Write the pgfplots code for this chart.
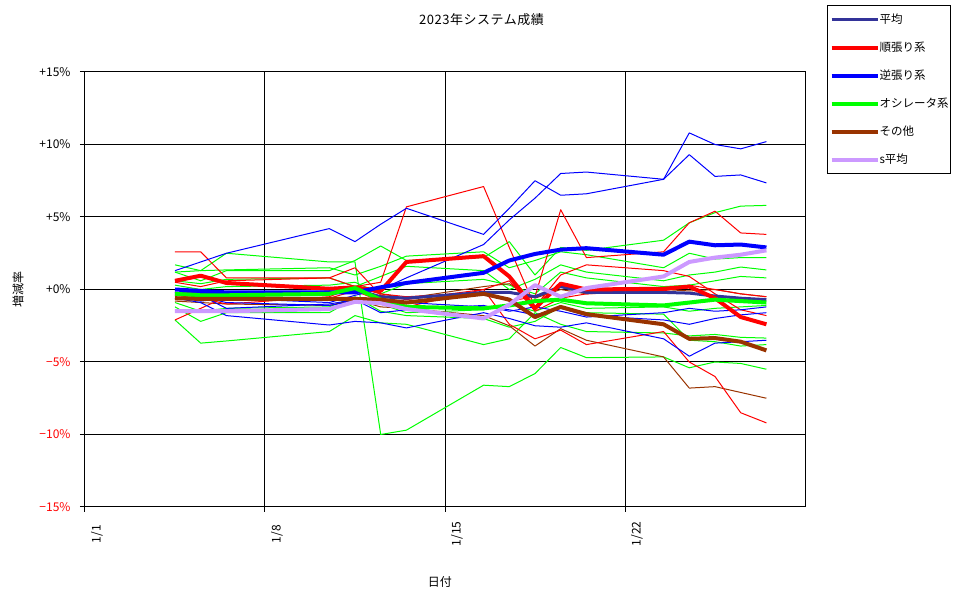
\documentclass[border=0pt]{standalone}
\usepackage{fontspec}
\setmainfont{Noto Sans CJK JP}
\usepackage{pgfplots}
\pgfplotsset{compat=1.18}
\usepackage{pgfplotstable}
\definecolor{cNavy}{HTML}{333399}
\definecolor{cRed}{HTML}{FF0000}
\definecolor{cBlue}{HTML}{0000FF}
\definecolor{cGreen}{HTML}{00FF00}
\definecolor{cBrown}{HTML}{993300}
\definecolor{cPurple}{HTML}{CC99FF}
\newcommand\fs{\fontsize{12}{14}\selectfont}
\newcommand\fsl{\fontsize{11.5}{13}\selectfont}
\newcommand\fst{\fontsize{13}{15}\selectfont\addfontfeatures{LetterSpace=4}}

% x = days since start of 1/1 (points at mid-day)
\pgfplotstableread{
x    avg   trd   ctr   osc   oth   sav
3.5  -0.3  0.6   0.0   -0.3  -0.6  -1.5
4.5  -0.2  0.95  -0.1  -0.4  -0.65 -1.5
5.5  -0.4  0.45  -0.2  -0.4  -0.65 -1.5
9.5  -0.3  0.05  -0.2  -0.3  -0.65 -1.35
10.5 0.0   0.15  -0.2  0.1   -0.65 -0.85
11.5 -0.5  -0.1  0.15  -0.7  -0.7  -0.95
12.5 -0.6  1.9   0.45  -1.2  -0.9  -1.35
15.5 -0.2  2.3   1.15  -1.3  -0.3  -2.0
16.5 -0.2  0.9   2.0   -1.1  -0.7  -1.05
17.5 -0.5  -1.3  2.45  -0.8  -1.9  0.3
18.5 0.2   0.4   2.75  -0.7  -1.2  -0.5
19.5 -0.2  0.0   2.85  -0.95 -1.7  0.1
22.5 -0.2  0.05  2.4   -1.1  -2.4  0.9
23.5 -0.25 0.2   3.3   -0.9  -3.4  1.9
24.5 -0.45 -0.6  3.05  -0.7  -3.35 2.2
25.5 -0.6  -1.9  3.1   -0.8  -3.6  2.4
26.5 -0.7  -2.4  2.9   -0.9  -4.2  2.7
}\thickdata

\pgfplotstableread{
x    B1   B2   B3    B4    B5   R1   R2   R3   R5   G1    G2    G4   G6   G7   G8   G9   G10  Br1   Br2
3.5  1.3  -0.5 -0.3  -0.6  -0.2 -0.4 -2.1 0.5  2.6  1.7   -2.1  1.2  1.2  0.6  0.3  -0.9 -1.2 -0.8  -0.2
4.5  1.9  -0.8 -0.5  -0.9  -0.4 -0.6 -1.3 0.2  2.6  1.3   -3.7  0.6  1.3  0.4  0.0  -1.5 -2.2 -0.9  -0.4
5.5  2.5  -0.6 -0.9  -1.8  -1.3 -1.0 -0.5 0.6  0.8  2.5   -3.55 1.3  1.35 0.7  0.2  -1.3 -1.6 -1.0  -0.3
9.5  4.2  -0.9 -1.1  -2.45 -1.0 -0.5 -0.6 0.8  0.8  1.9   -2.9  1.3  1.5  0.8  0.3  -1.2 -1.6 -1.1  -0.3
10.5 3.3  -0.4 -0.8  -2.2  -0.7 0.2  -0.1 0.2  1.5  1.9   -1.8  2.0  1.0  0.2  0.5  -0.5 -0.6 -0.7  0.2
11.5 4.5  0.0  -1.0  -2.3  -1.6 0.5  -0.8 -0.3 -0.4 -10.0 -2.3  3.0  1.6  0.9  -0.3 -1.5 -1.0 -1.2  -0.3
12.5 5.6  0.8  -0.9  -2.65 -1.4 5.7  -1.2 -0.5 -0.7 -9.7  -2.4  2.0  2.3  1.6  0.4  -1.8 -1.6 -1.3  -0.6
15.5 3.8  3.1  -1.2  -1.6  -1.1 7.1  0.0  -0.2 0.0  -6.6  -3.8  2.2  2.6  1.3  0.7  -2.0 -1.4 -1.8  0.2
16.5 5.6  4.8  -1.4  -2.0  -1.5 2.9  -2.4 -0.8 0.6  -6.7  -3.4  3.3  1.5  0.0  0.3  -2.6 -1.0 -2.5  0.4
17.5 7.5  6.3  -1.75 -2.5  -1.2 -1.2 -3.4 -0.5 -1.5 -5.8  -1.6  1.0  2.0  0.7  -0.3 -2.2 -1.5 -3.9  -0.6
18.5 6.5  8.0  -1.3  -2.6  -1.5 1.0  -2.8 5.5  -0.6 -4.0  -2.4  2.9  2.6  1.7  1.2  -1.2 -0.9 -2.7  0.0
19.5 6.6  8.1  -1.8  -2.3  -1.9 1.7  -3.8 2.2  -0.3 -4.7  -2.9  2.7  2.4  1.2  0.8  -1.6 -1.3 -3.5  -0.3
22.5 7.6  7.6  -2.1  -3.4  -1.6 1.3  -2.9 2.6  -0.1 -4.65 -3.0  3.4  1.5  0.6  0.2  -1.7 -1.2 -4.65 0.0
23.5 9.3  10.8 -2.4  -4.6  -1.3 0.9  -5.0 4.6  0.3  -5.4  -3.2  4.6  2.5  1.0  0.3  -3.5 -1.5 -6.8  -0.1
24.5 7.8  10.0 -2.0  -3.7  -1.5 -0.3 -6.0 5.4  0.0  -5.0  -3.1  5.3  2.1  1.2  0.6  -3.6 -1.3 -6.7  0.0
25.5 7.9  9.7  -1.75 -3.6  -1.4 -1.4 -8.5 3.9  -0.3 -5.1  -3.3  5.75 2.2  1.55 0.9  -3.9 -1.2 -7.1  -0.3
26.5 7.35 10.2 -1.6  -3.5  -1.2 -1.8 -9.2 3.8  -0.5 -5.5  -3.35 5.8  2.2  1.35 0.8  -3.8 -1.1 -7.5  -0.5
}\thindata

\begin{document}
\begin{tikzpicture}
\begin{axis}[
  scale only axis,
  width=720pt, height=435pt,
  xmin=0, xmax=28, ymin=-15, ymax=15,
  xtick={0,7,14,21}, xticklabels={1/1,1/8,1/15,1/22},
  ytick={-15,-10,-5,0,5,10,15},
  yticklabels={\textcolor{red}{−15\%},\textcolor{red}{−10\%},\textcolor{red}{−5\%},+0\%,+5\%,+10\%,+15\%},
  xtick pos=lower, ytick pos=left, tick align=outside, major tick length=5pt,
  tick style={black, line width=1pt},
  grid=major, major grid style={black, line width=1pt},
  axis line style={black, line width=1pt},
  ticklabel style={font=\fs},
  yticklabel style={anchor=east, xshift=-6pt},
  xticklabel style={anchor=center, xshift=12pt, yshift=-22pt, rotate=90},
  title={2023年システム成績},
  title style={font=\fst, at={(axis description cs:0.5507,1.1057)}, anchor=center},
  xlabel={日付},
  xlabel style={font=\fs, at={(axis description cs:0.493,-0.1724)}, anchor=center},
  ylabel={増減率},
  ylabel style={font=\fs, at={(axis description cs:-0.0931,0.4989)}, anchor=center},
  legend style={at={(axis description cs:1.0306,1.1540)}, anchor=north west,
    draw=black, line width=1pt, fill=white, font=\fsl,
    inner xsep=2pt, inner ysep=0pt, row sep=0pt, column sep=0pt,
    nodes={inner xsep=0pt, inner ysep=0pt, minimum height=28pt}},
  legend cell align=left,
  legend image code/.code={\path (-16pt,0pt) -- (30pt,0pt); \draw[#1, line width=3pt] (0pt,0pt) -- (27pt,0pt);},
  every axis plot/.append style={line join=round, mark=none},
]
\coordinate (LL) at (rel axis cs:0,0);
% thin member lines
\addplot[cGreen, line width=1pt, forget plot] table[x=x,y=G1]{\thindata};
\addplot[cGreen, line width=1pt, forget plot] table[x=x,y=G2]{\thindata};
\addplot[cGreen, line width=1pt, forget plot] table[x=x,y=G4]{\thindata};
\addplot[cGreen, line width=1pt, forget plot] table[x=x,y=G6]{\thindata};
\addplot[cGreen, line width=1pt, forget plot] table[x=x,y=G7]{\thindata};
\addplot[cGreen, line width=1pt, forget plot] table[x=x,y=G8]{\thindata};
\addplot[cGreen, line width=1pt, forget plot] table[x=x,y=G9]{\thindata};
\addplot[cGreen, line width=1pt, forget plot] table[x=x,y=G10]{\thindata};
\addplot[cBrown, line width=1pt, forget plot] table[x=x,y=Br1]{\thindata};
\addplot[cBrown, line width=1pt, forget plot] table[x=x,y=Br2]{\thindata};
\addplot[cRed, line width=1pt, forget plot] table[x=x,y=R1]{\thindata};
\addplot[cRed, line width=1pt, forget plot] table[x=x,y=R2]{\thindata};
\addplot[cRed, line width=1pt, forget plot] table[x=x,y=R3]{\thindata};
\addplot[cRed, line width=1pt, forget plot] table[x=x,y=R5]{\thindata};
\addplot[cBlue, line width=1pt, forget plot] table[x=x,y=B1]{\thindata};
\addplot[cBlue, line width=1pt, forget plot] table[x=x,y=B2]{\thindata};
\addplot[cBlue, line width=1pt, forget plot] table[x=x,y=B3]{\thindata};
\addplot[cBlue, line width=1pt, forget plot] table[x=x,y=B4]{\thindata};
\addplot[cBlue, line width=1pt, forget plot] table[x=x,y=B5]{\thindata};
% thick group lines
\addplot[cNavy, line width=3pt] table[x=x,y=avg]{\thickdata};
\addlegendentry{平均}
\addplot[cRed, line width=4pt] table[x=x,y=trd]{\thickdata};
\addlegendentry{順張り系}
\addplot[cBlue, line width=4pt] table[x=x,y=ctr]{\thickdata};
\addlegendentry{逆張り系}
\addplot[cGreen, line width=4pt] table[x=x,y=osc]{\thickdata};
\addlegendentry{オシレータ系}
\addplot[cBrown, line width=4pt] table[x=x,y=oth]{\thickdata};
\addlegendentry{その他}
\addplot[cPurple, line width=4pt] table[x=x,y=sav]{\thickdata};
\addlegendentry{s平均}
\end{axis}
\path (LL) ++(-85pt,-92pt) (LL) ++(885pt,507pt);
\end{tikzpicture}
\end{document}
